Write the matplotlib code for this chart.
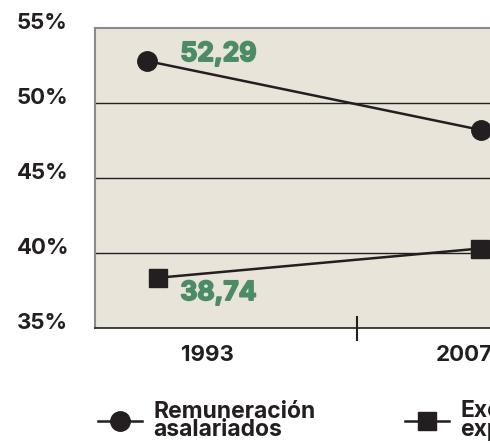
import numpy as np
import matplotlib.pyplot as plt
import matplotlib.patheffects as pe
from matplotlib.transforms import blended_transform_factory

# Data
years = ['1993', '2007']
x_rem = [0, 1]                 # category positions of the circle series
x_exc = [0.033, 0.997]         # squares sit slightly off the circles
remuneracion = [52.8, 48.2]
excedente = [38.35, 40.3]
label_rem = '52,29'
label_exc = '38,74'
yticks = [35, 40, 45, 50, 55]
ytick_labels = ['35%', '40%', '45%', '50%', '55%']
year_label_pos = [0.18, 0.951]
divider_pos = [0.629]

dark = '#231f20'
green = '#4b8b65'
beige = '#e9e4d9'
font = 'Inter'

fig = plt.figure(figsize=(4.9, 4.43), dpi=100)
ax = fig.add_axes([95/490, 115/443, 525/490, 300/443])
ax.set_facecolor(beige)

ax.plot(x_rem, remuneracion, color=dark, lw=1.8, marker='o', ms=14,
        label='Remuneración\nasalariados', zorder=3)
ax.plot(x_exc, excedente, color=dark, lw=1.8, marker='s', ms=13,
        label='Excedente\nexplotación', zorder=3)

# heavier green labels (stroke thickens the bold face)
thick = [pe.withStroke(linewidth=1.3, foreground=green)]
ax.annotate(label_rem, (x_rem[0], remuneracion[0]), xytext=(24, 5),
            textcoords='offset points', ha='left', va='center',
            color=green, fontsize=19, fontweight='bold', family=font,
            path_effects=thick)
ax.annotate(label_exc, (x_exc[0], excedente[0]), xytext=(16, -11),
            textcoords='offset points', ha='left', va='center',
            color=green, fontsize=19, fontweight='bold', family=font,
            path_effects=thick)

ax.set_ylim(35, 55)
ax.set_xlim(-0.156, 1.416)

# gridlines
for g in yticks[1:-1]:
    ax.axhline(g, color=dark, lw=1.0, zorder=1)

# y labels, left aligned
tr = blended_transform_factory(fig.transFigure, ax.transData)
for v, s in zip(yticks, ytick_labels):
    ax.text(17/490, v + 0.33, s, transform=tr, ha='left', va='center',
            fontsize=16, fontweight='bold', family=font, color=dark)
ax.set_yticks([])

ax.set_xticks(year_label_pos, years)
ax.tick_params(axis='x', which='major', length=0, pad=12, labelsize=16)
for t in ax.get_xticklabels():
    t.set_fontweight('bold')
    t.set_family(font)
    t.set_color(dark)
ax.set_xticks(divider_pos, minor=True)
ax.tick_params(axis='x', which='minor', direction='inout', length=18,
               width=1.5, color=dark)

for s in ['top', 'left', 'right']:
    ax.spines[s].set_color('#8a8a8a')
    ax.spines[s].set_linewidth(1.5)
ax.spines['bottom'].set_color(dark)
ax.spines['bottom'].set_linewidth(1.2)

leg = fig.legend(loc='upper left', bbox_to_anchor=(87/490, 1 - 389/443),
                 ncol=2, frameon=False, borderpad=0, handlelength=1.92,
                 handletextpad=0.48, columnspacing=3.9,
                 prop={'family': font, 'weight': 'bold', 'size': 16.5})
for t in leg.get_texts():
    t.set_linespacing(0.78)
    t.set_color(dark)

fig.savefig('out.png', dpi=100)
